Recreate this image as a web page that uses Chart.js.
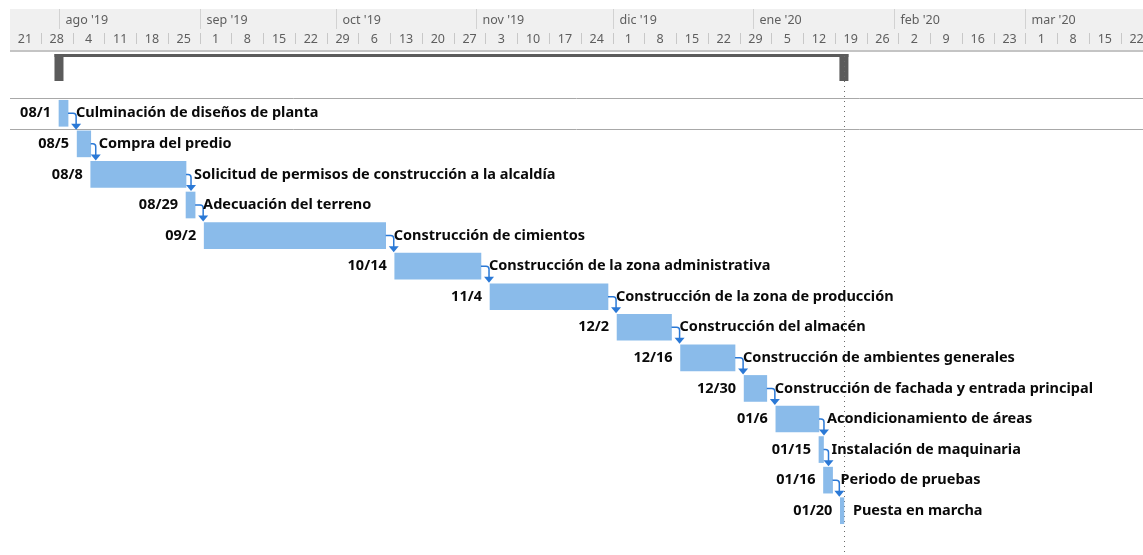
<!DOCTYPE html>
<html>
<head>
<meta charset="utf-8">
<script src="https://cdn.jsdelivr.net/npm/chart.js@4"></script>
<style>
  body { margin: 0; background: #fff; }
  canvas { display: block; }
</style>
</head>
<body>
<canvas id="gantt" width="1143" height="555"></canvas>
<script>
// task list
const taskNames = [
  "Culminación de diseños de planta",
  "Compra del predio",
  "Solicitud de permisos de construcción a la alcaldía",
  "Adecuación del terreno",
  "Construcción de cimientos",
  "Construcción de la zona administrativa",
  "Construcción de la zona de producción",
  "Construcción del almacén",
  "Construcción de ambientes generales",
  "Construcción de fachada y entrada principal",
  "Acondicionamiento de áreas",
  "Instalación de maquinaria",
  "Periodo de pruebas",
  "Puesta en marcha"
];
const startLabels = ["08/1", "08/5", "08/8", "08/29", "09/2", "10/14", "11/4",
  "12/2", "12/16", "12/30", "01/6", "01/15", "01/16", "01/20"];
const startDates = ["2019-08-01", "2019-08-05", "2019-08-08", "2019-08-29", "2019-09-02",
  "2019-10-14", "2019-11-04", "2019-12-02", "2019-12-16", "2019-12-30", "2020-01-06",
  "2020-01-15T12:00", "2020-01-16T12:00", "2020-01-20T05:00"];
const endDates = ["2019-08-03", "2019-08-08", "2019-08-29", "2019-08-31", "2019-10-12",
  "2019-11-02", "2019-11-30", "2019-12-14", "2019-12-28", "2020-01-04",
  "2020-01-15T12:00", "2020-01-16T12:00", "2020-01-18T12:00", "2020-01-21"];

// timescale
const monthLabels = ["ago '19", "sep '19", "oct '19", "nov '19", "dic '19", "ene '20", "feb '20", "mar '20"];
const monthStarts = ["2019-08-01", "2019-09-01", "2019-10-01", "2019-11-01", "2019-12-01",
  "2020-01-01", "2020-02-01", "2020-03-01"];
const firstWeek = "2019-07-21";
const weekLabels = ["21", "28", "4", "11", "18", "25", "1", "8", "15", "22", "29", "6", "13",
  "20", "27", "3", "10", "17", "24", "1", "8", "15", "22", "29", "5", "12", "19", "26",
  "2", "9", "16", "23", "1", "8", "15", "22"];
const viewStart = "2019-07-19";
const viewEnd = "2020-03-26T22:00";

const day0 = Date.UTC(2019, 7, 1);
function toDay(s) {
  const iso = s.length === 10 ? s + "T00:00Z" : s + "Z";
  return (Date.parse(iso) - day0) / 864e5;
}

const barData = startDates.map((s, i) => [toDay(s), toDay(endDates[i])]);

const BAR_BLUE = "#8abbea";
const LINK_BLUE = "#2b79d6";
const SUMMARY_GREY = "#5b5b5b";

const ganttDecor = {
  id: "ganttDecor",
  beforeDatasetsDraw(chart) {
    const ctx = chart.ctx;
    const x = chart.scales.x;
    const W = chart.width;
    ctx.save();

    // header band
    ctx.fillStyle = "#f0f0f0";
    ctx.fillRect(10, 9, W - 10, 41);
    ctx.fillStyle = "#c4c4c4";
    ctx.fillRect(10, 50, W - 10, 2);

    // months
    ctx.font = "12.5px 'Noto Sans', sans-serif";
    ctx.textBaseline = "middle";
    ctx.textAlign = "left";
    monthStarts.forEach((m, i) => {
      const px = Math.round(x.getPixelForValue(toDay(m))) + 0.5;
      ctx.strokeStyle = "#d2d2d2";
      ctx.lineWidth = 1;
      ctx.beginPath();
      ctx.moveTo(px, 9);
      ctx.lineTo(px, 29);
      ctx.stroke();
      ctx.fillStyle = "#5e5e5e";
      ctx.fillText(monthLabels[i], px + 6, 20);
    });

    // weeks
    ctx.textAlign = "center";
    const w0 = toDay(firstWeek);
    weekLabels.forEach((lab, i) => {
      const a = x.getPixelForValue(w0 + i * 7);
      const b = x.getPixelForValue(w0 + i * 7 + 7);
      ctx.fillStyle = "#5e5e5e";
      ctx.fillText(lab, (a + b) / 2, 39);
      if (i > 0) {
        const px = Math.round(a) + 0.5;
        ctx.strokeStyle = "#c8c8c8";
        ctx.beginPath();
        ctx.moveTo(px, 33);
        ctx.lineTo(px, 44);
        ctx.stroke();
      }
    });

    // selected row lines
    ctx.strokeStyle = "#a8a8a8";
    ctx.lineWidth = 1;
    [98.5, 129.5].forEach(y => {
      ctx.beginPath();
      ctx.moveTo(10, y);
      ctx.lineTo(W, y);
      ctx.stroke();
    });

    // project summary bar
    const sx = x.getPixelForValue(Math.min(...barData.map(d => d[0])));
    const ex = x.getPixelForValue(Math.max(...barData.map(d => d[1])));
    ctx.fillStyle = SUMMARY_GREY;
    ctx.fillRect(sx - 4.5, 54, ex - sx + 9, 3);
    ctx.fillRect(sx - 4.5, 54, 9, 27);
    ctx.fillRect(ex - 4.5, 54, 9, 27);

    // project finish dotted line
    ctx.strokeStyle = "#6a6a6a";
    ctx.setLineDash([1, 4]);
    ctx.beginPath();
    ctx.moveTo(Math.round(ex) + 0.5, 56);
    ctx.lineTo(Math.round(ex) + 0.5, chart.height);
    ctx.stroke();
    ctx.setLineDash([]);
    ctx.restore();
  },
  afterDatasetsDraw(chart) {
    const ctx = chart.ctx;
    const bars = chart.getDatasetMeta(0).data;
    ctx.save();

    // finish-to-start links
    ctx.strokeStyle = LINK_BLUE;
    ctx.fillStyle = LINK_BLUE;
    ctx.lineWidth = 1.5;
    for (let i = 0; i < bars.length - 1; i++) {
      const cur = bars[i];
      const nxt = bars[i + 1];
      const endX = cur.x;
      const yMid = cur.y;
      const ax = Math.max(endX + 5, nxt.base - 1);
      const tipY = nxt.y - nxt.height / 2 - 1;
      ctx.beginPath();
      ctx.moveTo(endX, yMid);
      ctx.lineTo(ax - 3, yMid);
      ctx.quadraticCurveTo(ax, yMid, ax, yMid + 3);
      ctx.lineTo(ax, tipY - 5);
      ctx.stroke();
      ctx.beginPath();
      ctx.moveTo(ax - 5, tipY - 6);
      ctx.lineTo(ax + 5, tipY - 6);
      ctx.lineTo(ax, tipY);
      ctx.closePath();
      ctx.fill();
    }

    // labels
    ctx.font = "bold 14.5px 'Noto Sans', sans-serif";
    ctx.textBaseline = "middle";
    ctx.fillStyle = "#0a0a0a";
    bars.forEach((b, i) => {
      ctx.textAlign = "right";
      ctx.fillText(startLabels[i], b.base - 8, b.y);
      ctx.textAlign = "left";
      const lx = i < bars.length - 1 ? b.x + 8 : b.x + 9;
      ctx.fillText(taskNames[i], lx, b.y);
    });
    ctx.restore();
  }
};

new Chart(document.getElementById("gantt"), {
  type: "bar",
  data: {
    labels: taskNames,
    datasets: [{
      data: barData,
      backgroundColor: BAR_BLUE,
      borderWidth: 0,
      borderSkipped: false,
      barThickness: 26
    }]
  },
  options: {
    indexAxis: "y",
    responsive: false,
    animation: false,
    layout: { padding: { top: 98, bottom: 29, left: 0, right: 0 } },
    plugins: {
      legend: { display: false },
      tooltip: { enabled: false }
    },
    scales: {
      x: { type: "linear", min: toDay(viewStart), max: toDay(viewEnd), display: false },
      y: { type: "category", display: false }
    }
  },
  plugins: [ganttDecor]
});
</script>
</body>
</html>
